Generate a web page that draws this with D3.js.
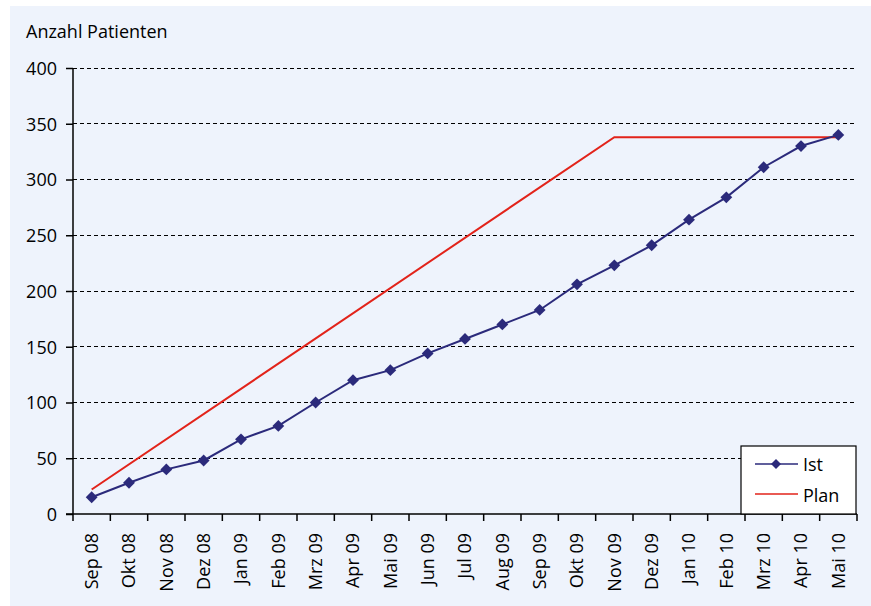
<!DOCTYPE html>
<html><head><meta charset="utf-8">
<script src="https://cdn.jsdelivr.net/npm/d3@7"></script>
<style>body{margin:0;background:#fff}svg{display:block}</style>
</head><body><svg id="c" width="871" height="606"></svg>
<script>
const months = ["Sep 08","Okt 08","Nov 08","Dez 08","Jan 09","Feb 09","Mrz 09","Apr 09","Mai 09","Jun 09","Jul 09","Aug 09","Sep 09","Okt 09","Nov 09","Dez 09","Jan 10","Feb 10","Mrz 10","Apr 10","Mai 10"];
const ist = [15,28,40,48,67,79,100,120,129,144,157,170,183,206,223,241,264,284,311,330,340];
const planMonths = ["Sep 08","Nov 09","Mai 10"];
const planValues = [22,338,338];
const yTicks = [0,50,100,150,200,250,300,350,400];

const font = "'Open Sans', sans-serif";
const fs = 18;
const svg = d3.select("#c");
svg.append("rect").attr("x",10).attr("y",6).attr("width",861).attr("height",600).attr("fill","#eef3fc");

const L=73,R=857,T=68,B=514;
const x = d3.scaleBand().domain(months).range([L,R]);
const y = d3.scaleLinear().domain([0,400]).range([B,T]);
const cx = m => x(m)+x.bandwidth()/2;

// grid
svg.append("g").selectAll("line").data(yTicks.filter(d=>d>0)).join("line")
  .attr("x1",L).attr("x2",R).attr("y1",d=>y(d)).attr("y2",d=>y(d))
  .attr("stroke","#000").attr("stroke-width",1).attr("stroke-dasharray","4,3").attr("shape-rendering","crispEdges");

// y axis
const ya = svg.append("g").attr("transform",`translate(${L},0)`)
  .call(d3.axisLeft(y).tickValues(yTicks).tickSize(7).tickPadding(9));
ya.select(".domain").attr("stroke","#000").attr("stroke-width",1.5).attr("d",`M0,${T}V${B}`);
ya.selectAll(".tick line").attr("stroke","#000").attr("stroke-width",1.5);
ya.selectAll("text").attr("font-family",font).attr("font-size",fs).attr("fill","#000").attr("dy","0.35em");

// x axis
const xa = svg.append("g").attr("transform",`translate(0,${B})`)
  .call(d3.axisBottom(x).tickSize(0));
xa.select(".domain").attr("stroke","#000").attr("stroke-width",1.5).attr("d",`M${L-7},0H${R}`);
xa.selectAll(".tick text").attr("font-family",font).attr("font-size",fs).attr("fill","#000")
  .attr("transform","rotate(-90)").attr("text-anchor","end").attr("x",-19).attr("y",0).attr("dy","0.35em");
// boundary ticks
const bounds = months.map(m=>x(m)).concat([R]);
svg.append("g").selectAll("line").data(bounds).join("line")
  .attr("x1",d=>d).attr("x2",d=>d).attr("y1",B).attr("y2",B+7)
  .attr("stroke","#000").attr("stroke-width",1.5);

// plan line
svg.append("path").datum(planMonths.map((m,i)=>[cx(m),y(planValues[i])]))
  .attr("d",d3.line()).attr("fill","none").attr("stroke","#e2231a").attr("stroke-width",2);

// ist line
const istPts = months.map((m,i)=>[cx(m),y(ist[i])]);
svg.append("path").datum(istPts).attr("d",d3.line()).attr("fill","none").attr("stroke","#2b2a7b").attr("stroke-width",2);
const diamond = d3.symbol().type(d3.symbolSquare).size(70);
svg.append("g").selectAll("path").data(istPts).join("path")
  .attr("transform",d=>`translate(${d[0]},${d[1]}) rotate(45)`).attr("d",diamond).attr("fill","#2b2a7b");

// title
svg.append("text").attr("x",26).attr("y",38).text("Anzahl Patienten")
  .attr("font-family",font).attr("font-size",18).attr("fill","#000");

// legend
const lg = svg.append("g");
lg.append("rect").attr("x",741).attr("y",446).attr("width",115).attr("height",68).attr("fill","#fff").attr("stroke","#000").attr("stroke-width",1.2);
lg.append("line").attr("x1",755).attr("x2",798).attr("y1",464).attr("y2",464).attr("stroke","#2b2a7b").attr("stroke-width",1.5);
lg.append("path").attr("transform","translate(776,464) rotate(45)").attr("d",d3.symbol().type(d3.symbolSquare).size(50)).attr("fill","#2b2a7b");
lg.append("line").attr("x1",755).attr("x2",798).attr("y1",494).attr("y2",494).attr("stroke","#e2231a").attr("stroke-width",1.5);
lg.append("text").attr("x",803).attr("y",465).attr("dy","0.35em").text("Ist").attr("font-family",font).attr("font-size",fs);
lg.append("text").attr("x",803).attr("y",496).attr("dy","0.35em").text("Plan").attr("font-family",font).attr("font-size",fs);
</script></body></html>
